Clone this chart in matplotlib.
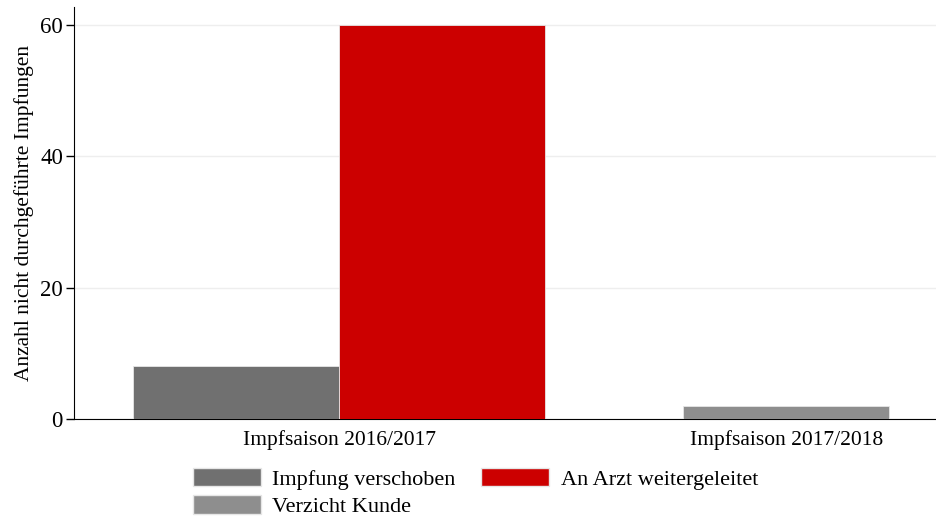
import matplotlib
matplotlib.use('Agg')
import matplotlib.pyplot as plt
from matplotlib.patches import Patch

# data
groups = ['Impfsaison 2016/2017', 'Impfsaison 2017/2018']
series = ['Impfung verschoben', 'An Arzt weitergeleitet', 'Verzicht Kunde']
series_group = [0, 0, 1]
series_offset = [-0.5, 0.5, 0.0]
values = [8, 60, 2]
colors = ['#707070', '#cc0000', '#8e8e8e']
yticks = [0, 20, 40, 60]

plt.rcParams['font.family'] = ['Liberation Serif', 'DejaVu Serif']

fig = plt.figure(figsize=(9.37, 5.17), dpi=100)
ax = fig.add_axes([74/937, 1 - 419/517, 862/937, (419 - 7)/517])

w = 0.46
for i in range(len(series)):
    x = series_group[i] + series_offset[i] * w
    ax.bar(x, values[i], width=w, color=colors[i], edgecolor='#e6e6e6',
           linewidth=0.6, zorder=3)

ax.set_xlim(-0.593, 1.335)
ax.set_ylim(0, 62.7)
ax.set_xticks([0, 1])
ax.set_xticklabels(groups, fontsize=15.5)
ax.tick_params(axis='x', length=0, pad=8)
ax.set_yticks(yticks)
ax.tick_params(axis='y', labelsize=16.5, length=6, width=1, pad=2)
ax.set_ylabel('Anzahl nicht durchgeführte Impfungen', fontsize=15.5, labelpad=4)
ax.yaxis.grid(True, color='#eeeeee', linewidth=1, zorder=0)
ax.spines['top'].set_visible(False)
ax.spines['right'].set_visible(False)

handles = [Patch(facecolor=colors[0], edgecolor='#e6e6e6', label=series[0]),
           Patch(facecolor=colors[2], edgecolor='#e6e6e6', label=series[2]),
           Patch(facecolor=colors[1], edgecolor='#e6e6e6', label=series[1])]
fig.legend(handles=handles, loc='lower left', bbox_to_anchor=(193/937, 0.0),
           ncol=2, frameon=False, fontsize=16, handlelength=3.06,
           handleheight=0.9, handletextpad=0.5, columnspacing=1.17,
           labelspacing=0.25, borderpad=0, borderaxespad=0)

fig.savefig('out.png', dpi=100)
